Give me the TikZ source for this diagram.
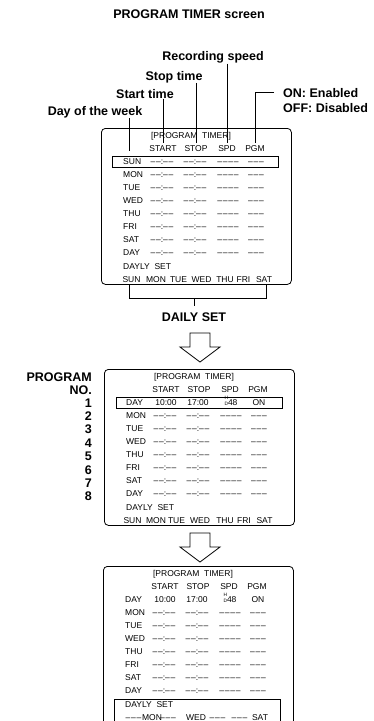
\documentclass[tikz,border=0pt]{standalone}
\usepackage{fontspec}
\setmainfont{Liberation Sans}
\tikzset{
  lbl/.style={font=\fontsize{12.5}{14}\selectfont\bfseries, inner sep=0pt},
  scr/.style={font=\fontsize{8.5}{9}\selectfont, inner sep=0pt},
  conn/.style={line width=0.75pt},
  screenbox/.style={draw, line width=0.8pt, rounded corners=4pt, inner sep=0pt, anchor=north west, minimum width=190pt},
  hilite/.style={draw, line width=0.8pt, inner sep=0pt, anchor=north west, minimum width=166pt},
  blockarrow/.style={draw, line width=0.8pt, fill=white, line join=miter},
}
\newcommand{\dsh}{–\kern0.7pt–}
\newcommand{\hdmark}{\raisebox{-0.6pt}{\fontsize{4.8}{5}\selectfont\shortstack{H\\D}}}
% prefix, L, T
\newcommand{\screenhead}[3]{%
  \node[scr,anchor=base] (#1title) at (#2+90,#3+10) {[PROGRAM\ \ TIMER]};
  \node[scr,anchor=base] (#1hstart) at (#2+62,#3+23) {START};
  \node[scr,anchor=base] (#1hstop) at (#2+95,#3+23) {STOP};
  \node[scr,anchor=base] (#1hspd) at (#2+126,#3+23) {SPD};
  \node[scr,anchor=base] (#1hpgm) at (#2+154,#3+23) {PGM};
  \node[scr,anchor=base west] (#1dayly) at (#2+22,#3+141) {DAYLY\ \ SET};
}
% prefix, L, T, index, label
\newcommand{\emptyrow}[5]{%
  \pgfmathsetmacro\rowy{#3+36+13.1*#4}
  \node[scr,anchor=base west] (#1l#4) at (#2+22,\rowy) {#5};
  \node[scr,anchor=base] (#1s#4) at (#2+61,\rowy) {\dsh:\dsh};
  \node[scr,anchor=base] (#1e#4) at (#2+94,\rowy) {\dsh:\dsh};
  \node[scr,anchor=base] (#1p#4) at (#2+127,\rowy) {\dsh\kern0.7pt\dsh};
  \node[scr,anchor=base] (#1g#4) at (#2+155,\rowy) {\dsh\kern0.7pt–};
}
% prefix, L, T
\newcommand{\setrow}[3]{%
  \node[scr,anchor=base west] (#1l0) at (#2+22,#3+36) {DAY};
  \node[scr,anchor=base] (#1s0) at (#2+62,#3+36) {10:00};
  \node[scr,anchor=base] (#1e0) at (#2+94,#3+36) {17:00};
  \node[scr,anchor=base] (#1p0) at (#2+127,#3+36) {\hdmark48};
  \node[scr,anchor=base] (#1g0) at (#2+155,#3+36) {ON};
}
% cx, top
\newcommand{\blockarr}[2]{%
  \draw[blockarrow] (#1-10,#2) -- (#1+10,#2) -- (#1+10,#2+14) -- (#1+20,#2+14)
     -- (#1,#2+29) -- (#1-20,#2+14) -- (#1-10,#2+14) -- cycle;
}
\begin{document}
\begin{tikzpicture}[x=1pt,y=-1pt]
\useasboundingbox (0,0) rectangle (374,721);
\clip (0,0) rectangle (374,721);

% ---------- title and labels
\node[lbl,anchor=base] (title) at (189,18.5) {PROGRAM TIMER screen};
\node[lbl,anchor=base] (lrec) at (213,60.7) {Recording speed};
\node[lbl,anchor=base] (lstop) at (174,80) {Stop time};
\node[lbl,anchor=base] (lstart) at (145,98.3) {Start time};
\node[lbl,anchor=base] (lday) at (95,115.3) {Day of the week};
\node[lbl,anchor=base west] (lon) at (283,97.3) {ON: Enabled};
\node[lbl,anchor=base west] (loff) at (283,112.3) {OFF: Disabled};

% ---------- screen 1
\node[screenbox, minimum height=156pt] (box1) at (101,128) {};
\node[hilite, minimum height=11pt] (hl1) at (112,156) {};
\screenhead{a}{101}{128}
\foreach \lab [count=\i from 0] in {SUN,MON,TUE,WED,THU,FRI,SAT,DAY}{\emptyrow{a}{101}{128}{\i}{\lab}}
\foreach \w/\xx [count=\j] in {SUN/131.5,MON/156,TUE/178.5,WED/201.5,THU/225,FRI/243.5,SAT/264}
  {\node[scr,anchor=base] (aw\j) at (\xx,282) {\w};}

% connectors from the labels
\coordinate (dayend) at (129,151);
\draw[conn] (lday.south -| dayend) -- (dayend);
\draw[conn] (lstart.south -| ahstart) -- ([yshift=2pt]ahstart.north);
\draw[conn] (lstop.south -| ahstop) -- ([yshift=2pt]ahstop.north);
\draw[conn] (lrec.south -| ahspd) -- ([yshift=2pt]ahspd.north);
\draw[conn] ([xshift=-9pt]lon.west) -| ([yshift=2pt]ahpgm.north);

% bracket and DAILY SET
\coordinate (brl) at (129,298);
\coordinate (brr) at (266,298);
\coordinate (stem) at (194,306);
\node[lbl,anchor=base] (dailyset) at (194,321.5) {DAILY SET};
\draw[conn] (brl |- box1.south) -- (brl) -- (brr) -- (brr |- box1.south);
\draw[conn] (stem |- brl) -- (stem);

% ---------- arrow 1
\blockarr{200}{333}

% ---------- screen 2
\node[lbl,anchor=base east] (lprog) at (92,381.5) {PROGRAM};
\node[lbl,anchor=base east] (lno) at (92,394.5) {NO.};
\foreach \n [count=\k from 0] in {1,...,8}
  {\node[lbl,anchor=base east] (num\n) at (92,407+13.4*\k) {\n};}
\node[screenbox, minimum height=156pt] (box2) at (104,369) {};
\node[hilite, minimum height=11pt] (hl2) at (116,397) {};
\screenhead{b}{104}{369}
\setrow{b}{104}{369}
\foreach \lab [count=\i from 1] in {MON,TUE,WED,THU,FRI,SAT,DAY}{\emptyrow{b}{104}{369}{\i}{\lab}}
\foreach \w/\xx [count=\j] in {SUN/132.5,MON/156,TUE/176.5,WED/200,THU/225,FRI/244,SAT/264.5}
  {\node[scr,anchor=base] (bw\j) at (\xx,523) {\w};}

% ---------- arrow 2
\blockarr{200}{533}

% ---------- screen 3
\node[screenbox, minimum height=175pt] (box3) at (103,566) {};
\node[hilite, minimum height=40pt] (hl3) at (114,699) {};
\screenhead{c}{103}{566}
\setrow{c}{103}{566}
\foreach \lab [count=\i from 1] in {MON,TUE,WED,THU,FRI,SAT,DAY}{\emptyrow{c}{103}{566}{\i}{\lab}}
\foreach \w/\xx [count=\j] in {\dsh\kern0.7pt–/133.5,MON/152,\dsh\kern0.7pt–/168,WED/196,\dsh\kern0.7pt–/217.5,\dsh\kern0.7pt–/239.5,SAT/260}
  {\node[scr,anchor=base] (cw\j) at (\xx,720) {\w};}
\end{tikzpicture}
\end{document}
